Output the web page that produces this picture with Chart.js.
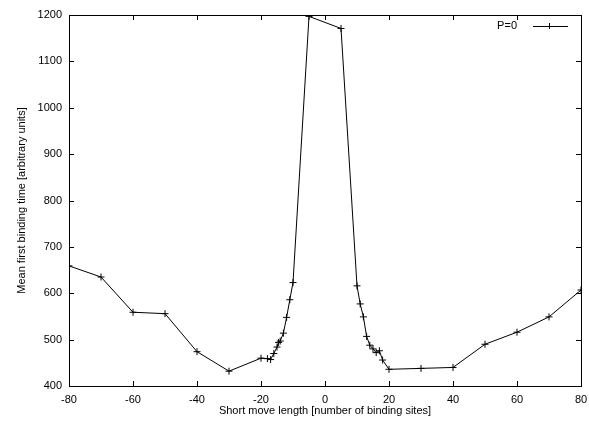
<!DOCTYPE html>
<html>
<head>
<meta charset="utf-8">
<script src="https://cdn.jsdelivr.net/npm/chart.js@4.4.1/dist/chart.umd.min.js"></script>
<style>
  html, body { margin: 0; padding: 0; background: #fff; }
  #wrap { width: 589px; height: 425px; }
</style>
</head>
<body>
<div id="wrap"><canvas id="chart" width="589" height="425"></canvas></div>
<script>
// short move length vs mean first binding time
const moveLength = [-80, -70, -60, -50, -40, -30, -20, -18, -17, -16, -15, -14.5, -14, -13, -12, -11, -10,
                    -5, 5,
                    10, 11, 12, 13, 14, 15, 16, 17, 18, 20, 30, 40, 50, 60, 70, 80];
const bindingTime = [659, 635, 559, 556, 474, 432, 460, 459, 457, 470, 484, 494, 497, 514, 548, 586, 623,
                     1197, 1171,
                     616, 577, 549, 507, 488, 480, 472, 476, 456, 436, 438, 440, 490, 516, 549, 607];
const seriesLabel = 'P=0';
const xTicks = [-80, -60, -40, -20, 0, 20, 40, 60, 80];
const yTicks = [400, 500, 600, 700, 800, 900, 1000, 1100, 1200];

const FONT = 'Liberation Sans, Arial, Helvetica, sans-serif';

// gnuplot-like frame: box, inward ticks mirrored on all sides, key at top right
const framePlugin = {
    id: 'frame',
    afterDatasetsDraw (chart) {
        const ctx = chart.ctx;
        const a = chart.chartArea;
        const xs = chart.scales.x;
        const ys = chart.scales.y;
        const len = 5;
        ctx.save();
        ctx.strokeStyle = '#000';
        ctx.lineWidth = 1;
        ctx.beginPath();
        xTicks.forEach(function (v) {
            const px = Math.round(xs.getPixelForValue(v)) + 0.5;
            ctx.moveTo(px, a.bottom); ctx.lineTo(px, a.bottom - len);
            ctx.moveTo(px, a.top); ctx.lineTo(px, a.top + len);
        });
        yTicks.forEach(function (v) {
            const py = Math.round(ys.getPixelForValue(v)) + 0.5;
            ctx.moveTo(a.left, py); ctx.lineTo(a.left + len, py);
            ctx.moveTo(a.right, py); ctx.lineTo(a.right - len, py);
        });
        ctx.stroke();
        ctx.strokeRect(Math.round(a.left) + 0.5, Math.round(a.top) + 0.5,
            Math.round(a.right - a.left), Math.round(a.bottom - a.top));

        // key
        const ky = a.top + 11;
        ctx.fillStyle = '#000';
        ctx.font = '11px ' + FONT;
        ctx.textAlign = 'right';
        ctx.textBaseline = 'middle';
        ctx.fillText(seriesLabel, a.right - 64, ky);
        ctx.beginPath();
        ctx.moveTo(a.right - 48, ky + 0.5); ctx.lineTo(a.right - 13, ky + 0.5);
        const cx = a.right - 32;
        ctx.moveTo(cx - 3, ky + 0.5); ctx.lineTo(cx + 3, ky + 0.5);
        ctx.moveTo(cx + 0.5, ky - 3); ctx.lineTo(cx + 0.5, ky + 3);
        ctx.stroke();
        ctx.restore();
    }
};

new Chart(document.getElementById('chart'), {
    type: 'line',
    data: {
        datasets: [{
            label: seriesLabel,
            data: moveLength.map(function (x, i) { return { x: x, y: bindingTime[i] }; }),
            borderColor: '#000',
            backgroundColor: '#000',
            borderWidth: 1,
            pointStyle: 'cross',
            pointRadius: 3.5,
            pointBorderWidth: 1,
            pointBorderColor: '#000',
            tension: 0,
            fill: false
        }]
    },
    options: {
        responsive: false,
        animation: false,
        layout: { padding: { top: 15, right: 8, left: 0, bottom: 0 } },
        plugins: {
            legend: { display: false },
            tooltip: { enabled: false }
        },
        scales: {
            x: {
                type: 'linear',
                min: -80,
                max: 80,
                afterBuildTicks: function (scale) { scale.ticks = xTicks.map(function (v) { return { value: v }; }); },
                afterFit: function (scale) {
                    scale.height = 39;
                    scale.paddingLeft = 0; // let labels overhang, as gnuplot does
                    scale.paddingRight = 0;
                },
                grid: { display: false, drawTicks: false },
                border: { display: false },
                ticks: {
                    color: '#000', font: { family: FONT, size: 11 }, padding: 7, maxRotation: 0,
                    callback: function (v) { return String(v); }
                },
                title: {
                    display: true,
                    text: 'Short move length [number of binding sites]',
                    color: '#000',
                    font: { family: FONT, size: 11 },
                    padding: { top: 0, bottom: 7 }
                }
            },
            y: {
                type: 'linear',
                min: 400,
                max: 1200,
                afterBuildTicks: function (scale) { scale.ticks = yTicks.map(function (v) { return { value: v }; }); },
                afterFit: function (scale) {
                    scale.width = 69;
                    scale.paddingTop = 0;
                    scale.paddingBottom = 0;
                },
                grid: { display: false, drawTicks: false },
                border: { display: false },
                ticks: {
                    color: '#000', font: { family: FONT, size: 11 }, padding: 7,
                    callback: function (v) { return String(v); }
                },
                title: {
                    display: true,
                    text: 'Mean first binding time [arbitrary units]',
                    color: '#000',
                    font: { family: FONT, size: 11 },
                    padding: { top: 15, bottom: 0 }
                }
            }
        }
    },
    plugins: [framePlugin]
});
</script>
</body>
</html>
